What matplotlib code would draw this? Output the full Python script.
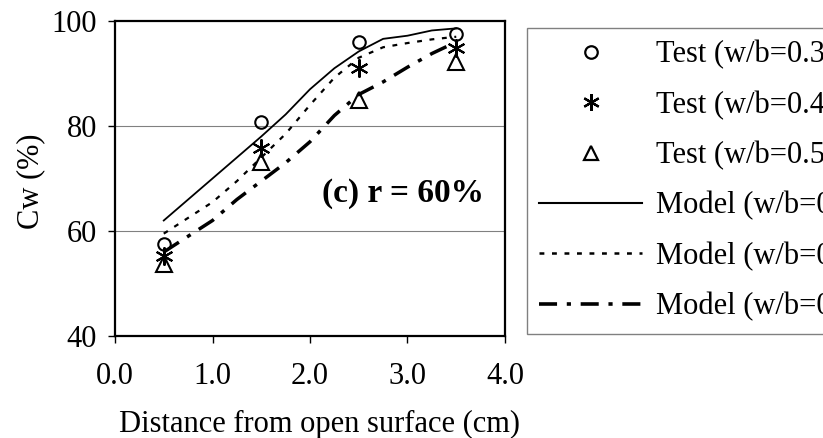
import matplotlib
matplotlib.use("Agg")
import matplotlib.pyplot as plt
from matplotlib.lines import Line2D

plt.rcParams['font.family'] = ['Liberation Serif', 'DejaVu Serif']
plt.rcParams['lines.scale_dashes'] = False

# 试验数据 (距离 cm, Cw %)
test_x = [0.5, 1.5, 2.5, 3.5]
test_03 = [57.6, 80.8, 96.0, 97.6]
test_04 = [55.2, 75.8, 91.0, 94.8]
test_05 = [53.8, 73.2, 85.0, 92.2]

# 模型曲线
model_x = [0.5, 0.75, 1.0, 1.25, 1.5, 1.75, 2.0, 2.25, 2.5, 2.75, 3.0, 3.25, 3.5]
model_03 = [62.0, 66.0, 70.0, 74.0, 78.0, 82.2, 87.0, 91.0, 94.2, 96.6, 97.2, 98.2, 98.6]
model_04 = [59.5, 62.5, 65.5, 69.5, 74.0, 78.5, 84.0, 89.2, 93.0, 95.0, 95.8, 96.5, 97.0]
model_05 = [56.0, 59.0, 62.0, 66.0, 69.5, 73.0, 77.0, 82.0, 86.0, 88.4, 91.2, 93.8, 96.0]

x_ticks = [0.0, 1.0, 2.0, 3.0, 4.0]
y_ticks = [40, 60, 80, 100]

fs = 22
fig = plt.figure(figsize=(8.23, 4.38), dpi=100)
ax = fig.add_axes([115/823, 1 - 336/438, 390/823, 315/438])

ax.axhline(60, color='#808080', lw=0.8, zorder=0)
ax.axhline(80, color='#808080', lw=0.8, zorder=0)

star = (6, 2, 0)
ax.plot(test_x, test_03, ls='none', marker='o', ms=9, mfc='none', mec='black', mew=1.5)
ax.plot(test_x, test_04, ls='none', marker=star, ms=13, mec='black', mew=1.5)
ax.plot(test_x, test_05, ls='none', marker='^', ms=11, mfc='none', mec='black', mew=1.5)
ax.plot(model_x, model_03, color='black', lw=1.3, ls='-')
ax.plot(model_x, model_04, color='black', lw=1.6, ls=(0, (3.5, 5.5)))
ax.plot(model_x, model_05, color='black', lw=2.5, ls=(0, (13, 7, 3, 7)))

ax.set_xlim(0, 4)
ax.set_ylim(40, 100)
ax.set_xticks(x_ticks)
ax.set_xticklabels(['%.1f' % v for v in x_ticks])
ax.set_yticks(y_ticks)
ax.tick_params(direction='out', length=5, width=1, labelsize=fs, colors='black')
ax.tick_params(axis='x', pad=14)
ax.tick_params(axis='y', pad=8)
for s in ax.spines.values():
    s.set_linewidth(1.6)
    s.set_color('black')

ax.set_xlabel('Distance from open surface (cm)', fontsize=fs)
ax.xaxis.set_label_coords(0.525, -0.235)
ax.set_ylabel('Cw (%)', fontsize=fs)
ax.yaxis.set_label_coords(-0.18, 0.49)

ax.text(2.12, 67.2, '(c) r = 60%', fontsize=24, fontweight='bold', ha='left', va='center')

handles = [
    Line2D([], [], ls='none', marker='o', ms=9, mfc='none', mec='black', mew=1.6),
    Line2D([], [], ls='none', marker=star, ms=12, mec='black', mew=1.6),
    Line2D([], [], ls='none', marker='^', ms=10, mfc='none', mec='black', mew=1.6),
    Line2D([], [], color='black', lw=1.5, ls='-'),
    Line2D([], [], color='black', lw=1.8, ls=(0, (3.5, 5.5))),
    Line2D([], [], color='black', lw=2.6, ls=(0, (13, 7, 3, 7))),
]
labels = ['Test (w/b=0.3)', 'Test (w/b=0.4)', 'Test (w/b=0.5)',
          'Model (w/b=0.3)', 'Model (w/b=0.4)', 'Model (w/b=0.5)']
leg = fig.legend(handles, labels, loc='upper left', bbox_to_anchor=(527/823, 1 - 28/438),
                 fontsize=fs, frameon=True, fancybox=False, edgecolor='#606060',
                 handlelength=3.37, handletextpad=0.45, borderpad=0.4, labelspacing=0.69,
                 borderaxespad=0)
leg.get_frame().set_linewidth(1.0)

fig.savefig('out.png', dpi=100)
